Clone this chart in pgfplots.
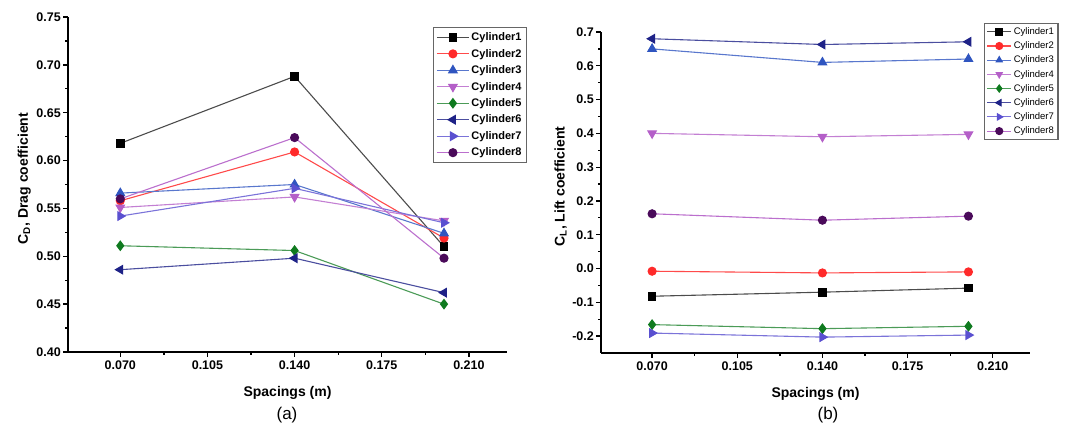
\documentclass[border=0pt]{standalone}
\usepackage{fontspec}
\setmainfont{Liberation Sans}
\usepackage{pgfplots}
\pgfplotsset{compat=1.18}

\definecolor{cA}{HTML}{000000}
\definecolor{cB}{HTML}{FF2A2A}
\definecolor{cC}{HTML}{2F55C0}
\definecolor{cD}{HTML}{B45FC8}
\definecolor{cE}{HTML}{0F7A1F}
\definecolor{cF}{HTML}{1E2287}
\definecolor{cG}{HTML}{5A50D0}
\definecolor{cH}{HTML}{4A0A5A}

\pgfplotsset{
  cyl1/.style={color=black!70, line width=1.1pt, mark=square*, mark size=3.8pt, mark options={solid, fill=cA, draw=cA}},
  cyl2/.style={color=cB!85, line width=1.1pt, mark=*, mark size=4pt, mark options={solid, fill=cB, draw=cB}},
  cyl3/.style={color=cC!80, line width=1.1pt, mark=triangle*, mark size=4.8pt, mark options={solid, fill=cC, draw=cC}},
  cyl4/.style={color=cD!80, line width=1.1pt, mark=triangle*, mark size=4.8pt, mark options={solid, rotate=180, fill=cD, draw=cD}},
  cyl5/.style={color=cE!75, line width=1.1pt, mark=diamond*, mark size=4.6pt, mark options={solid, fill=cE, draw=cE}},
  cyl6/.style={color=cF!80, line width=1.1pt, mark=triangle*, mark size=4.8pt, mark options={solid, rotate=90, fill=cF, draw=cF}},
  cyl7/.style={color=cG!80, line width=1.1pt, mark=triangle*, mark size=4.8pt, mark options={solid, rotate=-90, fill=cG, draw=cG}},
  cyl8/.style={color=cD!90, line width=1.1pt, mark=*, mark size=4pt, mark options={solid, fill=cH, draw=cH}},
  panel/.style={
    scale only axis,
    axis lines=left,
    axis line style={-, line width=1.8pt},
    tick align=outside,
    major tick length=5pt,
    minor tick length=3pt,
    every tick/.style={black, line width=1.3pt},
    xmin=0.049, xmax=0.2253,
    xtick={0.07,0.105,0.14,0.175,0.21},
    minor x tick num=1,
    minor y tick num=1,
    scaled x ticks=false,
    scaled y ticks=false,
    /pgf/number format/assume math mode=true,
    xticklabel style={/pgf/number format/fixed, /pgf/number format/fixed zerofill, /pgf/number format/precision=3},
    ticklabel style={font=\bfseries\fontsize{12.5}{14}\selectfont},
    yticklabel style={inner sep=2pt},
    label style={font=\bfseries\fontsize{14}{16}\selectfont},
    xlabel style={yshift=-10pt},
    ylabel style={xshift=6pt},
    legend cell align=left,
    legend image code/.code={\draw[mark repeat=2, mark phase=2] plot coordinates {(0pt,0pt) (16pt,0pt) (32pt,0pt)};},
  },
}

\begin{document}
\begin{tikzpicture}
\path[use as bounding box] (0,0) rectangle (1065pt,436pt);
\clip (0,0) rectangle (1065pt,436pt);

% (a) drag coefficient
\begin{axis}[panel,
  at={(68pt,84pt)}, anchor=south west,
  width=439pt, height=335pt,
  ymin=0.40, ymax=0.75,
  ytick={0.40,0.45,0.50,0.55,0.60,0.65,0.70,0.75},
  yticklabel style={/pgf/number format/fixed, /pgf/number format/fixed zerofill, /pgf/number format/precision=2},
  xlabel={Spacings (m)},
  ylabel={C\textsubscript{D}, Drag coefficient},
  legend style={at={(rel axis cs:1.046,0.97)}, anchor=north east,
    draw=black!60, line width=1.2pt, fill=white,
    font=\bfseries\fontsize{11}{12}\selectfont, row sep=3pt,
    inner sep=3pt},
]
\addplot[cyl1] coordinates {(0.07,0.618) (0.14,0.688) (0.2,0.510)};
\addlegendentry{Cylinder1}
\addplot[cyl2] coordinates {(0.07,0.558) (0.14,0.609) (0.2,0.519)};
\addlegendentry{Cylinder2}
\addplot[cyl3] coordinates {(0.07,0.566) (0.14,0.575) (0.2,0.524)};
\addlegendentry{Cylinder3}
\addplot[cyl4] coordinates {(0.07,0.551) (0.14,0.562) (0.2,0.537)};
\addlegendentry{Cylinder4}
\addplot[cyl5] coordinates {(0.07,0.511) (0.14,0.506) (0.2,0.450)};
\addlegendentry{Cylinder5}
\addplot[cyl6] coordinates {(0.07,0.486) (0.14,0.498) (0.2,0.462)};
\addlegendentry{Cylinder6}
\addplot[cyl7] coordinates {(0.07,0.542) (0.14,0.571) (0.2,0.535)};
\addlegendentry{Cylinder7}
\addplot[cyl8] coordinates {(0.07,0.560) (0.14,0.624) (0.2,0.498)};
\addlegendentry{Cylinder8}
\end{axis}

% (b) lift coefficient
\begin{axis}[panel,
  at={(601pt,83pt)}, anchor=south west,
  width=429pt, height=321pt,
  ymin=-0.25, ymax=0.70,
  ytick={-0.2,-0.1,0,0.1,0.2,0.3,0.4,0.5,0.6,0.7},
  yticklabel style={/pgf/number format/fixed, /pgf/number format/fixed zerofill, /pgf/number format/precision=1},
  xlabel={Spacings (m)},
  ylabel={C\textsubscript{L}, Lift coefficient},
  legend style={at={(rel axis cs:0.893,1.028)}, anchor=north west,
    draw=black!60, line width=1.2pt, fill=white,
    font=\fontsize{9.5}{10}\selectfont, row sep=1.8pt,
    inner sep=2pt},
  legend image code/.code={\draw[mark repeat=2, mark phase=2, mark size=3.5pt] plot coordinates {(0pt,0pt) (12pt,0pt) (24pt,0pt)};},
]
\addplot[cyl1] coordinates {(0.07,-0.082) (0.14,-0.070) (0.2,-0.058)};
\addlegendentry{Cylinder1}
\addplot[cyl2] coordinates {(0.07,-0.008) (0.14,-0.013) (0.2,-0.010)};
\addlegendentry{Cylinder2}
\addplot[cyl3] coordinates {(0.07,0.650) (0.14,0.610) (0.2,0.620)};
\addlegendentry{Cylinder3}
\addplot[cyl4] coordinates {(0.07,0.400) (0.14,0.390) (0.2,0.397)};
\addlegendentry{Cylinder4}
\addplot[cyl5] coordinates {(0.07,-0.166) (0.14,-0.178) (0.2,-0.171)};
\addlegendentry{Cylinder5}
\addplot[cyl6] coordinates {(0.07,0.680) (0.14,0.663) (0.2,0.671)};
\addlegendentry{Cylinder6}
\addplot[cyl7] coordinates {(0.07,-0.191) (0.14,-0.203) (0.2,-0.197)};
\addlegendentry{Cylinder7}
\addplot[cyl8] coordinates {(0.07,0.162) (0.14,0.143) (0.2,0.155)};
\addlegendentry{Cylinder8}
\end{axis}

\node[font=\fontsize{17}{19}\selectfont] at (287pt,21pt) {(a)};
\node[font=\fontsize{17}{19}\selectfont] at (828pt,21pt) {(b)};
\end{tikzpicture}
\end{document}
